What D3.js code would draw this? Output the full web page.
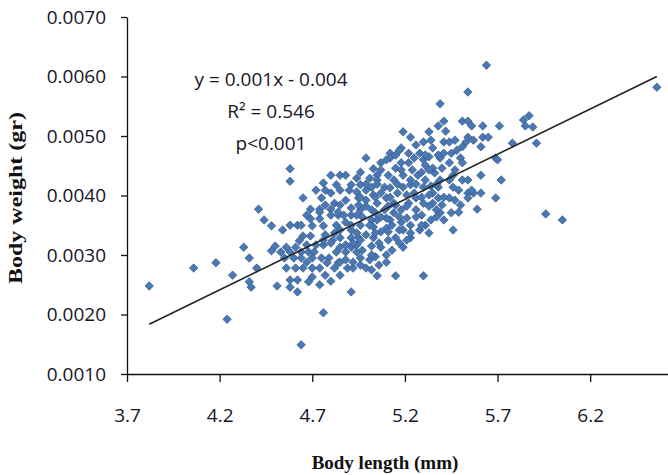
<!DOCTYPE html>
<html>
<head>
<meta charset="utf-8">
<script src="https://cdn.jsdelivr.net/npm/d3@7"></script>
<style>
  html, body { margin: 0; padding: 0; background: #fff; }
  svg { display: block; }
</style>
</head>
<body>
<div id="chart"></div>
<script>
// body length (mm) and body weight (gr)
var lengthMm = [
  3.82, 4.06, 4.18, 4.24, 4.27, 4.33, 4.36, 4.40, 4.36, 4.37, 4.41, 4.44, 4.48, 4.50, 4.51, 4.56, 4.58, 4.58, 4.62, 4.62,
  4.64, 4.76, 4.80, 4.91, 4.58, 4.58, 4.65, 4.56, 4.61, 4.48, 4.53, 4.58, 4.64, 4.68, 4.71, 4.55, 4.60, 4.64, 4.70, 4.75,
  4.79, 4.61, 4.65, 4.70, 4.74, 4.70, 4.68, 4.58, 4.62, 4.65, 4.69, 4.63, 4.69, 4.74, 4.69, 4.74, 4.70, 4.76, 4.80, 4.80,
  4.84, 4.87, 4.91, 4.94, 4.80, 4.85, 4.80, 4.75, 4.82, 4.94, 4.95, 4.85, 4.91, 4.85, 4.91, 4.95, 4.85, 4.91, 4.83, 4.88,
  4.94, 4.76, 4.78, 4.84, 4.82, 4.89, 4.92, 4.96, 4.99, 5.02, 5.05, 5.15, 5.30, 5.07, 5.19, 5.04, 5.11, 4.96, 4.99, 4.77,
  4.88, 4.96, 4.99, 4.88, 4.91, 4.85, 4.96, 5.01, 4.99, 4.99, 5.03, 5.07, 5.12, 5.12, 5.18, 5.22, 5.19, 5.23, 5.18, 5.22,
  5.28, 5.30, 5.33, 5.35, 5.33, 5.30, 5.31, 5.05, 5.11, 5.19, 5.27, 5.36, 5.05, 5.14, 5.23, 5.31, 5.02, 5.09, 5.19, 5.30,
  5.07, 5.16, 5.25, 5.35, 5.05, 5.14, 5.22, 5.30, 5.35, 5.02, 5.09, 5.18, 5.26, 5.05, 5.12, 5.18, 5.34, 5.03, 5.10, 5.19,
  5.28, 5.15, 5.23, 5.07, 5.03, 5.39, 5.41, 5.38, 5.51, 5.54, 5.56, 5.62, 5.71, 5.42, 5.54, 5.62, 5.65, 5.41, 5.44, 5.53,
  5.51, 5.61, 5.48, 5.39, 5.41, 5.45, 5.44, 5.50, 5.51, 5.69, 5.70, 5.40, 5.35, 5.46, 5.61, 5.72, 5.39, 5.44, 5.51, 5.54,
  5.38, 5.46, 5.44, 5.54, 5.57, 5.61, 5.54, 5.69, 5.59, 5.39, 5.45, 5.41, 5.46, 5.50, 5.64, 5.54, 5.84, 5.87, 5.85, 5.89,
  5.91, 5.78, 5.96, 6.05, 6.56, 4.88, 4.94, 4.97, 5.01, 5.06, 5.10, 5.13, 4.96, 5.02, 4.88, 4.76, 4.81, 4.72, 4.67, 4.83,
  4.96, 5.02, 5.04, 5.10, 5.14, 5.21, 5.23, 4.95, 4.85, 4.77, 4.91, 5.03, 5.10, 5.15, 5.21, 5.26, 5.29, 5.31, 5.37, 5.33,
  5.38, 5.40, 5.12, 5.23, 5.29, 5.15, 5.10, 5.25, 5.17, 5.26, 4.96, 4.94, 4.88, 4.83, 4.76, 4.72, 4.67, 4.64, 4.77, 4.85,
  4.74, 4.54, 5.02, 5.17, 5.11, 5.21, 5.47, 5.49, 5.47, 5.34,
  5.07, 5.18, 5.24, 5.33, 4.99, 5.05, 5.16, 5.26, 5.37, 4.96, 5.04, 5.12, 5.29, 5.41, 4.99, 5.11, 5.21, 5.33, 4.97, 5.07,
  5.17, 5.26, 5.37, 4.91, 5.01, 5.13, 5.29, 4.82, 4.94, 5.04, 5.23, 5.33, 4.80, 4.92, 5.06, 5.17, 4.67, 4.85, 4.92, 5.10,
  5.15, 5.31, 5.38, 5.34, 5.47, 5.57, 4.74, 4.84, 5.49, 4.77, 4.90, 5.56
];
var weightGr = [
  0.00248, 0.00278, 0.00287, 0.00192, 0.00266, 0.00313, 0.00295, 0.00278, 0.00255, 0.00246, 0.00377, 0.00359, 0.00349, 0.00315, 0.00248, 0.00278, 0.00258, 0.00246, 0.00238, 0.00258,
  0.00149, 0.00203, 0.00256, 0.00238, 0.00445, 0.00424, 0.00396, 0.00313, 0.00313, 0.00307, 0.00305, 0.00305, 0.00305, 0.00305, 0.00305, 0.00295, 0.00295, 0.00295, 0.00295, 0.00295,
  0.00295, 0.00278, 0.00278, 0.00278, 0.00278, 0.00263, 0.00255, 0.00350, 0.00350, 0.00332, 0.00332, 0.00324, 0.00377, 0.00377, 0.00361, 0.00361, 0.00349, 0.00349, 0.00377, 0.00367,
  0.00367, 0.00367, 0.00367, 0.00367, 0.00434, 0.00434, 0.00404, 0.00396, 0.00387, 0.00406, 0.00396, 0.00342, 0.00342, 0.00329, 0.00329, 0.00329, 0.00313, 0.00313, 0.00305, 0.00305,
  0.00305, 0.00317, 0.00287, 0.00287, 0.00278, 0.00278, 0.00278, 0.00295, 0.00278, 0.00315, 0.00265, 0.00265, 0.00265, 0.00313, 0.00313, 0.00297, 0.00325, 0.00350, 0.00334, 0.00334,
  0.00355, 0.00376, 0.00392, 0.00392, 0.00418, 0.00409, 0.00418, 0.00429, 0.00409, 0.00463, 0.00445, 0.00455, 0.00471, 0.00463, 0.00455, 0.00455, 0.00507, 0.00498, 0.00480, 0.00471,
  0.00471, 0.00490, 0.00507, 0.00480, 0.00465, 0.00460, 0.00451, 0.00434, 0.00434, 0.00434, 0.00434, 0.00438, 0.00426, 0.00426, 0.00426, 0.00426, 0.00414, 0.00414, 0.00414, 0.00414,
  0.00404, 0.00404, 0.00404, 0.00404, 0.00387, 0.00387, 0.00387, 0.00387, 0.00387, 0.00376, 0.00376, 0.00376, 0.00376, 0.00359, 0.00359, 0.00355, 0.00359, 0.00347, 0.00345, 0.00342,
  0.00342, 0.00329, 0.00329, 0.00339, 0.00329, 0.00554, 0.00525, 0.00517, 0.00525, 0.00525, 0.00517, 0.00517, 0.00517, 0.00508, 0.00498, 0.00498, 0.00498, 0.00490, 0.00490, 0.00490,
  0.00482, 0.00482, 0.00476, 0.00463, 0.00471, 0.00471, 0.00455, 0.00463, 0.00455, 0.00463, 0.00460, 0.00446, 0.00446, 0.00434, 0.00434, 0.00426, 0.00426, 0.00426, 0.00426, 0.00426,
  0.00414, 0.00414, 0.00396, 0.00404, 0.00404, 0.00404, 0.00396, 0.00396, 0.00377, 0.00371, 0.00371, 0.00359, 0.00342, 0.00384, 0.00619, 0.00574, 0.00527, 0.00534, 0.00517, 0.00515,
  0.00488, 0.00488, 0.00369, 0.00359, 0.00582, 0.00317, 0.00317, 0.00308, 0.00292, 0.00283, 0.00300, 0.00308, 0.00283, 0.00275, 0.00292, 0.00325, 0.00325, 0.00317, 0.00317, 0.00350,
  0.00325, 0.00359, 0.00371, 0.00362, 0.00371, 0.00362, 0.00350, 0.00384, 0.00384, 0.00384, 0.00379, 0.00401, 0.00396, 0.00384, 0.00401, 0.00396, 0.00367, 0.00350, 0.00376, 0.00401,
  0.00396, 0.00384, 0.00413, 0.00418, 0.00439, 0.00446, 0.00460, 0.00463, 0.00476, 0.00485, 0.00439, 0.00429, 0.00434, 0.00418, 0.00421, 0.00409, 0.00367, 0.00350, 0.00266, 0.00266,
  0.00250, 0.00342, 0.00300, 0.00342, 0.00339, 0.00325, 0.00392, 0.00409, 0.00443, 0.00416,
  0.00443, 0.00443, 0.00443, 0.00443, 0.00419, 0.00419, 0.00419, 0.00419, 0.00419, 0.00397, 0.00397, 0.00397, 0.00397, 0.00397, 0.00382, 0.00382, 0.00382, 0.00382, 0.00364, 0.00364,
  0.00364, 0.00364, 0.00364, 0.00350, 0.00350, 0.00350, 0.00350, 0.00337, 0.00337, 0.00337, 0.00337, 0.00337, 0.00320, 0.00320, 0.00320, 0.00320, 0.00288, 0.00288, 0.00288, 0.00288,
  0.00468, 0.00468, 0.00468, 0.00493, 0.00493, 0.00493, 0.00372, 0.00372, 0.00372, 0.00409, 0.00409, 0.00409
];

var xTicks = [3.7, 4.2, 4.7, 5.2, 5.7, 6.2];
var yTicks = [0.0010, 0.0020, 0.0030, 0.0040, 0.0050, 0.0060, 0.0070];

// fitted line as drawn on the chart
var trendSlope = 0.00152;
var trendIntercept = -0.00397;
var statLines = ["y = 0.001x - 0.004", "R\u00b2 = 0.546", "p<0.001"];

var xTitle = "Body length (mm)";
var yTitle = "Body weight (gr)";

var width = 668, height = 475;
var svg = d3.select("#chart").append("svg")
    .attr("width", width)
    .attr("height", height);

var x = d3.scaleLinear().domain([3.7, 6.62]).range([127, 668]);
var y = d3.scaleLinear().domain([0.001, 0.007]).range([374, 17]);

var labelFont = "'Open Sans', 'Noto Sans', sans-serif";
var textColor = "#161628";

// axes
var xAxis = svg.append("g")
    .attr("transform", "translate(0," + y(0.001) + ")")
    .call(d3.axisBottom(x).tickValues(xTicks).tickSize(8).tickSizeOuter(0).tickPadding(27)
        .tickFormat(d3.format(".1f")));

var yAxis = svg.append("g")
    .attr("transform", "translate(" + x(3.7) + ",0)")
    .call(d3.axisLeft(y).tickValues(yTicks).tickSize(6).tickSizeOuter(0).tickPadding(15)
        .tickFormat(d3.format(".4f")));

[xAxis, yAxis].forEach(function(g) {
    g.selectAll("path.domain").attr("stroke", "#111").attr("stroke-width", 1.3);
    g.selectAll(".tick line").attr("stroke", "#111").attr("stroke-width", 1.3);
    g.selectAll(".tick text")
        .attr("fill", textColor)
        .style("font-family", labelFont)
        .style("font-size", "19px");
});

// points
var points = lengthMm.map(function(d, i) { return { len: d, wt: weightGr[i] }; });

svg.append("g")
    .selectAll("path")
    .data(points)
    .enter()
    .append("path")
    .attr("d", d3.symbol().type(d3.symbolDiamond2).size(46))
    .attr("transform", function(d) { return "translate(" + x(d.len) + "," + y(d.wt) + ")"; })
    .attr("fill", "#4a78b4")
    .attr("stroke", "#355a8a")
    .attr("stroke-width", 0.7);

// trend line over the range of the data
var xMin = d3.min(lengthMm), xMax = d3.max(lengthMm);
svg.append("line")
    .attr("x1", x(xMin))
    .attr("y1", y(trendSlope * xMin + trendIntercept))
    .attr("x2", x(xMax))
    .attr("y2", y(trendSlope * xMax + trendIntercept))
    .attr("stroke", "#222")
    .attr("stroke-width", 1.6);

// regression stats
svg.append("g")
    .selectAll("text")
    .data(statLines)
    .enter()
    .append("text")
    .attr("x", 271)
    .attr("y", function(d, i) { return 86 + i * 32; })
    .attr("text-anchor", "middle")
    .attr("fill", textColor)
    .style("font-family", labelFont)
    .style("font-size", "19px")
    .text(function(d) { return d; });

// axis titles
svg.append("text")
    .attr("x", 385)
    .attr("y", 469)
    .attr("text-anchor", "middle")
    .attr("fill", "#111")
    .style("font-family", "'Liberation Serif', 'DejaVu Serif', serif")
    .style("font-weight", "bold")
    .style("font-size", "19px")
    .text(xTitle);

svg.append("text")
    .attr("transform", "translate(22,198) rotate(-90)")
    .attr("text-anchor", "middle")
    .attr("fill", "#111")
    .attr("textLength", 172)
    .attr("lengthAdjust", "spacingAndGlyphs")
    .style("font-family", "'Liberation Serif', 'DejaVu Serif', serif")
    .style("font-weight", "bold")
    .style("font-size", "18px")
    .text(yTitle);
</script>
</body>
</html>
